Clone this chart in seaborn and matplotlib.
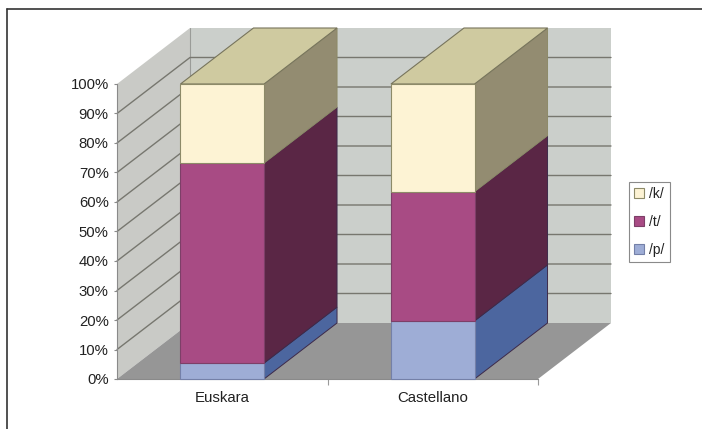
import matplotlib
matplotlib.use("Agg")
import matplotlib.pyplot as plt
from matplotlib.lines import Line2D
from matplotlib.patches import Polygon
import pandas as pd
import seaborn as sns

categories = ["Euskara", "Castellano"]
phonemes = ["/p/", "/t/", "/k/"]
p_values = [5.4, 19.7]
t_values = [67.8, 43.8]
k_values = [26.8, 36.5]
y_ticks = list(range(0, 101, 10))

front_colors = {"/p/": "#9eadd6", "/t/": "#a84b84", "/k/": "#fdf3d4"}
side_colors = {"/p/": "#4c669f", "/t/": "#5a2645", "/k/": "#938c71"}
edge_colors = {"/p/": "#7480a8", "/t/": "#7d3f68", "/k/": "#8d8a68"}
top_color = "#cfcaa0"
wall_color = "#cbcfcb"
side_wall_color = "#c9cac6"
floor_color = "#969696"
grid_color = "#77776f"
text_color = "#222222"

W, H = 702, 429
sns.set_theme(style="white")
plt.rcParams["font.family"] = ["Liberation Sans", "DejaVu Sans"]

fig = plt.figure(figsize=(W / 100, H / 100), dpi=100, facecolor="white")
ax = fig.add_axes([117 / W, 1 - 379 / H, 421 / W, 295 / H])
ax.patch.set_visible(False)

table = pd.DataFrame({"lengua": categories, "/p/": p_values, "/t/": t_values, "/k/": k_values})

# Stacked front faces
bottoms = [0.0] * len(categories)
for ph in phonemes:
    sns.barplot(data=table, x="lengua", y=ph, order=categories, width=0.397,
                bottom=bottoms, color=front_colors[ph], saturation=1,
                edgecolor=edge_colors[ph], linewidth=0.8, errorbar=None,
                label=ph, ax=ax, zorder=5, clip_on=False)
    bottoms = [b + v for b, v in zip(bottoms, table[ph])]

ax.set_xlim(-0.5, 1.5)
ax.set_ylim(0, 100)

# Oblique depth of the 3D box, in data units
depth_x = 73 / 210.5
depth_y = 56 / 2.95


def face(points, color, z, edge="none", lw=0.0):
    ax.add_patch(Polygon(points, closed=True, facecolor=color, edgecolor=edge,
                         linewidth=lw, zorder=z, clip_on=False))


x0, x1 = ax.get_xlim()
face([(x0, 0), (x0 + depth_x, depth_y), (x0 + depth_x, 100 + depth_y), (x0, 100)],
     side_wall_color, 0.1)
face([(x0 + depth_x, depth_y), (x1 + depth_x, depth_y),
      (x1 + depth_x, 100 + depth_y), (x0 + depth_x, 100 + depth_y)], wall_color, 0.1)
face([(x0, 0), (x1, 0), (x1 + depth_x, depth_y), (x0 + depth_x, depth_y)], floor_color, 0.2)

# Gridlines run up the side wall and along the back wall
for tick in y_ticks[1:-1]:
    ax.plot([x0, x0 + depth_x, x1 + depth_x],
            [tick, tick + depth_y, tick + depth_y],
            color=grid_color, lw=1.0, zorder=0.5, clip_on=False)
ax.plot([x0 + depth_x] * 2, [depth_y, 100 + depth_y], color="#9a9c98", lw=0.8,
        zorder=0.4, clip_on=False)

# Side and top faces follow the rectangles seaborn drew
for ph, container in zip(phonemes, ax.containers):
    for rect in container:
        right = rect.get_x() + rect.get_width()
        low, high = rect.get_y(), rect.get_y() + rect.get_height()
        face([(right, low), (right + depth_x, low + depth_y),
              (right + depth_x, high + depth_y), (right, high)],
             side_colors[ph], 3, edge=edge_colors[ph] if ph == "/k/" else "#3d2a4a", lw=0.7)
        if ph == "/k/":
            left = rect.get_x()
            face([(left, high), (right, high), (right + depth_x, high + depth_y),
                  (left + depth_x, high + depth_y)], top_color, 3.5, edge="#77745c", lw=0.8)

# Axes, ticks and labels
for name in ("top", "right"):
    ax.spines[name].set_visible(False)
for name in ("left", "bottom"):
    ax.spines[name].set_visible(True)
    ax.spines[name].set_color("#8a8a8a")
    ax.spines[name].set_linewidth(0.8)
    ax.spines[name].set_zorder(4)
ax.set_xlabel("")
ax.set_ylabel("")
ax.set_yticks(y_ticks, [f"{t}%" for t in y_ticks])
ax.set_xticks(range(len(categories)), categories)
ax.set_xticks([0.5, 1.5], minor=True)
ax.tick_params(axis="y", left=True, length=2.5, width=0.8, color="#8a8a8a", pad=3.5,
               labelsize=10.7, labelcolor=text_color)
ax.tick_params(axis="x", which="major", bottom=False, length=0, pad=8.5,
               labelsize=10.8, labelcolor=text_color)
ax.tick_params(axis="x", which="minor", bottom=True, length=4, width=0.8, color="#9a9a9a")

# Legend, top entry first
handles, labels = ax.get_legend_handles_labels()
leg = ax.legend(handles[::-1], labels[::-1], loc="upper left",
                bbox_to_anchor=(629 / W, 1 - 181.5 / H), bbox_transform=fig.transFigure,
                fontsize=10, frameon=True, fancybox=False, framealpha=1, edgecolor="#8a8a8a",
                handlelength=0.72, handleheight=0.72, handletextpad=0.35,
                labelspacing=1.0, borderpad=0.38, borderaxespad=0, labelcolor=text_color)
leg.get_frame().set_linewidth(0.8)
leg.set_zorder(10)

# Dark rule along the top and left of the figure
for xs, ys in (([7, 7], [8.5, H]), ([7, W], [8.5, 8.5])):
    fig.add_artist(Line2D([x / W for x in xs], [1 - y / H for y in ys],
                          color="#333333", lw=1.2, transform=fig.transFigure))

fig.savefig("out.png", dpi=100)
